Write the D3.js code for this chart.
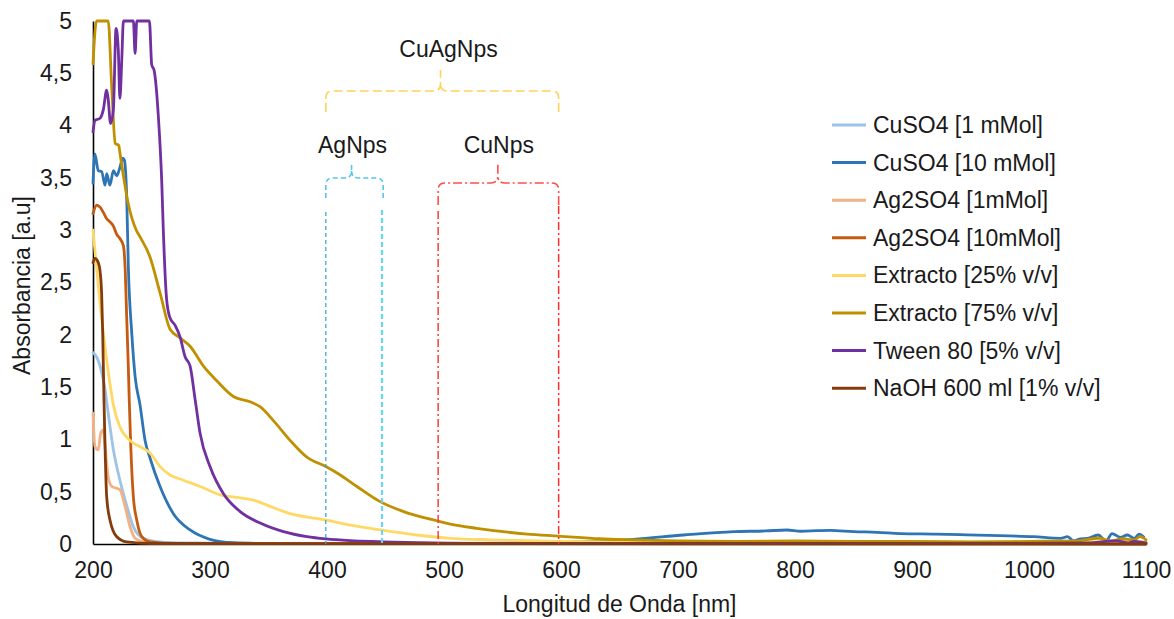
<!DOCTYPE html>
<html>
<head>
<meta charset="utf-8">
<script src="https://cdn.jsdelivr.net/npm/d3@7"></script>
<style>
  html, body { margin: 0; padding: 0; background: #ffffff; }
  svg { display: block; font-family: "Liberation Sans", Arial, sans-serif; }
</style>
</head>
<body>
<svg id="chart" width="1174" height="619"></svg>
<script>
// ---- Axis ticks ----
const wavelengthTicks = [200, 300, 400, 500, 600, 700, 800, 900, 1000, 1100];
const absorbanceTicks = [0, 0.5, 1, 1.5, 2, 2.5, 3, 3.5, 4, 4.5, 5];

// ---- UV-Vis spectra: [wavelength nm, absorbance a.u.] ----
const cuso4_1mM = [[200,1.83],[203,1.79],[207,1.66],[210,1.50],[213,1.25],[217,0.93],[223,0.61],[229,0.36],[234.5,0.165],[243,0.054],[257,0.02],[280,0.01],[350,0.005],[560,0.008],[620,0.018],[700,0.014],[900,0.01],[1100,0.01]];

const cuso4_10mM = [[200,3.45],[201.6,3.73],[204.5,3.57],[207.4,3.56],[210.3,3.43],[211.7,3.54],[214.5,3.43],[217.4,3.57],[220.3,3.52],[223,3.60],[225.4,3.69],[226.8,3.67],[228.8,3.32],[230.2,2.65],[233.1,2.02],[236,1.60],[240.2,1.33],[244.5,0.99],[248.8,0.82],[257.3,0.55],[268.7,0.29],[283,0.134],[300,0.045],[320,0.012],[340,0.006],[370,0.004],[500,0.004],[580,0.01],[625,0.025],[662,0.045],[705,0.086],[748,0.118],[775,0.125],[793,0.134],[805,0.122],[819,0.127],[830,0.13],[850,0.118],[870,0.112],[890,0.10],[920,0.095],[947,0.088],[975,0.08],[1004,0.07],[1027,0.054],[1033,0.07],[1038,0.03],[1044,0.05],[1050,0.054],[1059,0.086],[1066,0.03],[1071,0.10],[1078,0.064],[1084,0.086],[1090,0.054],[1094,0.095],[1098,0.067]];

const ag2so4_1mM = [[200,1.25],[201.7,0.93],[204.5,0.90],[206.6,1.06],[208.8,1.09],[211,0.85],[213,0.64],[216,0.55],[223,0.52],[227.4,0.36],[231.7,0.165],[236,0.055],[243,0.02],[260,0.005],[1100,0.005]];

const ag2so4_10mM = [[200,3.16],[203.2,3.24],[206,3.22],[208.8,3.17],[211.7,3.11],[214.5,3.08],[217.4,3.04],[220.3,2.96],[223,2.92],[226,2.85],[227.4,2.65],[228.8,2.17],[230.2,1.69],[231,1.37],[232.3,0.93],[234.5,0.45],[237.4,0.23],[241.7,0.07],[248.8,0.02],[270,0.005],[1100,0.002]];

const extracto25 = [[200,3.0],[203,2.65],[206,2.3],[209,2.0],[213,1.65],[217.4,1.33],[223,1.12],[231.6,0.99],[240.2,0.93],[248.8,0.87],[257.3,0.74],[265.9,0.66],[277.3,0.61],[291.5,0.55],[308.6,0.47],[322.9,0.445],[337.1,0.42],[351.4,0.36],[368.5,0.29],[399,0.23],[420,0.18],[446,0.134],[477,0.086],[505.4,0.054],[542,0.04],[598,0.025],[650,0.02],[750,0.018],[850,0.02],[950,0.018],[1050,0.02],[1080,0.03],[1100,0.02]];

const extracto75 = [[200,4.59],[203,5],[213,5],[216,4.37],[219,3.83],[222,3.81],[223,3.74],[230,3.26],[237,3.0],[240,2.94],[248.5,2.75],[257.3,2.4],[266,2.05],[274.4,1.97],[283,1.89],[294.4,1.70],[305.8,1.56],[320,1.41],[334.3,1.36],[343,1.31],[354.2,1.18],[368.5,0.99],[382.8,0.83],[399,0.74],[411.3,0.66],[425.6,0.55],[445.5,0.405],[465.5,0.31],[494.5,0.22],[505.4,0.19],[528,0.15],[571,0.095],[598,0.076],[633,0.05],[660,0.04],[700,0.03],[750,0.025],[800,0.03],[850,0.025],[900,0.025],[950,0.02],[1000,0.025],[1040,0.03],[1060,0.055],[1070,0.03],[1080,0.05],[1090,0.04],[1095,0.07],[1100,0.04]];

const tween80 = [[200,3.94],[201.7,4.05],[206,4.07],[208.8,4.15],[211.7,4.34],[213,4.25],[215,4.02],[217.4,4.15],[219.7,4.93],[221.6,4.73],[223,4.26],[224.6,4.63],[226,5],[234.5,5],[236,4.69],[237.4,5],[248.2,5],[250.2,4.58],[252.2,4.53],[255.9,4.08],[258.8,3.45],[260.1,3.0],[263,2.33],[265.9,2.16],[270.2,2.09],[274.4,1.98],[278.7,1.79],[283,1.70],[287.3,1.38],[291.5,1.06],[300,0.74],[311.5,0.48],[325.8,0.31],[342.9,0.20],[362.8,0.118],[382.8,0.07],[399,0.048],[420,0.032],[446,0.022],[477,0.012],[520,0.006],[700,0.005],[1000,0.005],[1050,0.01],[1075,0.03],[1085,0.01],[1090,0.025],[1100,0.01]];

const naoh = [[200,2.69],[201.7,2.73],[204.5,2.69],[206,2.61],[207.4,2.39],[208.3,2.01],[209.4,1.37],[210.3,0.93],[211.7,0.45],[214.5,0.23],[220.3,0.07],[228.8,0.02],[250,0.005],[1100,0.0]];

const seriesLabels = ["CuSO4 [1 mMol]", "CuSO4 [10 mMol]", "Ag2SO4 [1mMol]", "Ag2SO4 [10mMol]",
                      "Extracto [25% v/v]", "Extracto [75% v/v]", "Tween 80 [5% v/v]", "NaOH 600 ml [1% v/v]"];
const seriesData = [cuso4_1mM, cuso4_10mM, ag2so4_1mM, ag2so4_10mM, extracto25, extracto75, tween80, naoh];
const seriesColors = ["#9DC3E6", "#2E75B6", "#F4B183", "#C55A11", "#FFD966", "#BF9000", "#7030A0", "#843C0C"];

// ---- Nanoparticle absorption bands (nm) ----
const bandLabels = ["CuAgNps", "AgNps", "CuNps"];
const bandStart  = [399, 399, 495];
const bandEnd    = [598, 448, 598];
const bandTip    = [497, 421, 546];
const bandMarkers = [399, 447, 495, 598];

// ---- Layout ----
const svg = d3.select("#chart");
const plot = { left: 93, right: 1146, top: 21, bottom: 544 };
const FONT = 23;

const x = d3.scaleLinear().domain([200, 1100]).range([plot.left, plot.right]);
const y = d3.scaleLinear().domain([0, 5]).range([plot.bottom, plot.top]);

const fmt = d => String(d).replace(".", ",");

// Axes
const gx = svg.append("g")
  .attr("transform", `translate(0,${plot.bottom})`)
  .call(d3.axisBottom(x).tickValues(wavelengthTicks).tickFormat(d3.format("d")).tickSize(0).tickPadding(18));
const gy = svg.append("g")
  .attr("transform", `translate(${plot.left},0)`)
  .call(d3.axisLeft(y).tickValues(absorbanceTicks).tickFormat(fmt).tickSize(0).tickPadding(21));

[gx, gy].forEach(g => {
  g.select(".domain").attr("stroke", "#000").attr("stroke-width", 1.6);
  g.selectAll("text").attr("font-size", FONT).attr("fill", "#1a1a1a")
    .attr("font-family", "'Liberation Sans', Arial, sans-serif");
});

// Axis titles
svg.append("text")
  .attr("x", (plot.left + plot.right) / 2).attr("y", 612)
  .attr("text-anchor", "middle").attr("font-size", FONT).attr("fill", "#1a1a1a")
  .text("Longitud de Onda [nm]");
svg.append("text")
  .attr("transform", `translate(30,${(plot.top + plot.bottom) / 2 + 3}) rotate(-90)`)
  .attr("text-anchor", "middle").attr("font-size", FONT).attr("fill", "#1a1a1a")
  .text("Absorbancia [a.u]");

// Spectra
const line = d3.line().x(d => x(d[0])).y(d => y(d[1])).curve(d3.curveMonotoneX);
const gLines = svg.append("g").attr("fill", "none").attr("stroke-linejoin", "round").attr("stroke-linecap", "round");
seriesData.forEach((s, i) => {
  gLines.append("path").attr("d", line(s)).attr("stroke", seriesColors[i]).attr("stroke-width", 2.8);
});

// Legend
const legend = svg.append("g");
seriesLabels.forEach((lab, i) => {
  const ry = 125 + i * 37.6;
  legend.append("line").attr("x1", 832).attr("x2", 866).attr("y1", ry).attr("y2", ry)
    .attr("stroke", seriesColors[i]).attr("stroke-width", 3);
  legend.append("text").attr("x", 873).attr("y", ry).attr("dy", "0.35em")
    .attr("font-size", FONT).attr("fill", "#1a1a1a").text(lab);
});

// Band braces and markers
function bracePath(x1, x2, xt, yTop, yEnd, yTip, r) {
  const p = d3.path();
  p.moveTo(x1, yEnd); p.lineTo(x1, yTop + r); p.quadraticCurveTo(x1, yTop, x1 + r, yTop);
  p.lineTo(xt - r, yTop); p.quadraticCurveTo(xt, yTop, xt, yTop - r); p.lineTo(xt, yTip);
  p.moveTo(x2, yEnd); p.lineTo(x2, yTop + r); p.quadraticCurveTo(x2, yTop, x2 - r, yTop);
  p.lineTo(xt + r, yTop); p.quadraticCurveTo(xt, yTop, xt, yTop - r);
  return p.toString();
}
const braceStyle = [
  { color: "#FFD257", dash: "9,4", w: 1.6, yTop: 91, yEnd: 112, yTip: 70, labelY: 57, dx: 8 },
  { color: "#55C4EF", dash: "5,3", w: 1.6, yTop: 178, yEnd: 198, yTip: 162, labelY: 153, dx: 1 },
  { color: "#FF4D4D", dash: "9,3,2,3", w: 1.6, yTop: 183, yEnd: 205, yTip: 163, labelY: 153, dx: 1 }
];
const gAnn = svg.append("g").attr("fill", "none");
bandLabels.forEach((lab, i) => {
  const st = braceStyle[i];
  const xt = x(bandTip[i]);
  gAnn.append("path")
    .attr("d", bracePath(x(bandStart[i]), x(bandEnd[i]), xt, st.yTop, st.yEnd, st.yTip, 7))
    .attr("stroke", st.color).attr("stroke-width", st.w).attr("stroke-dasharray", st.dash);
  svg.append("text").attr("x", xt + st.dx).attr("y", st.labelY)
    .attr("text-anchor", "middle").attr("font-size", FONT).attr("fill", "#1a1a1a").text(lab);
});
const markerStyle = [
  { color: "#2AA3DD", dash: "4,3", w: 1.2, top: 212 },
  { color: "#6FD0F4", dash: "5,3", w: 2.2, top: 210 },
  { color: "#FF3B3B", dash: "8,3,2,3", w: 1.5, top: 211 },
  { color: "#FF2E2E", dash: "8,3,2,3", w: 1.5, top: 206 }
];
bandMarkers.forEach((nm, i) => {
  const st = markerStyle[i];
  gAnn.append("line").attr("x1", x(nm)).attr("x2", x(nm)).attr("y1", st.top).attr("y2", plot.bottom)
    .attr("stroke", st.color).attr("stroke-width", st.w).attr("stroke-dasharray", st.dash);
});
</script>
</body>
</html>
